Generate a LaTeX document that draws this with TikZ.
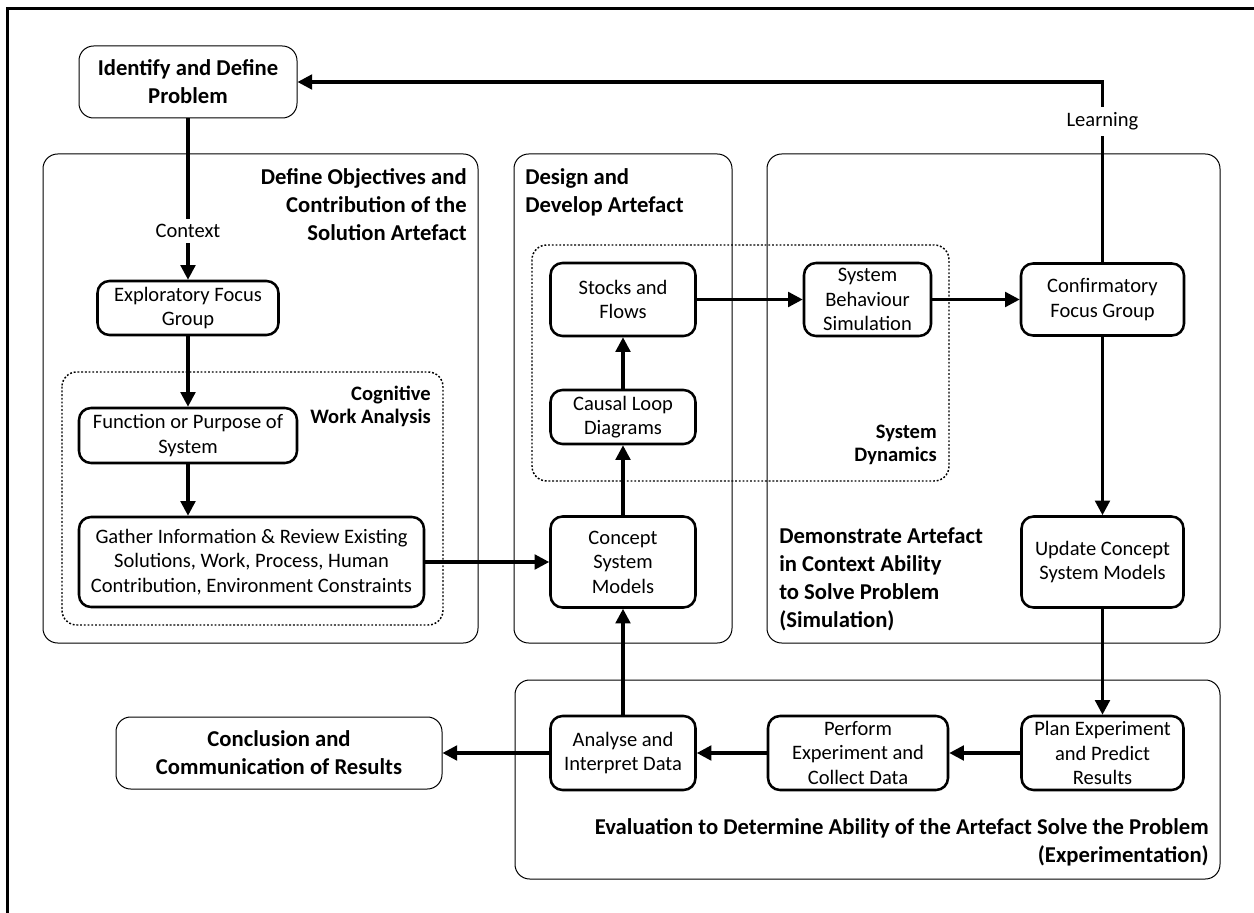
\documentclass[tikz,border=0pt]{standalone}
\usepackage{fontspec}
\setmainfont{Carlito}
\usepackage{tikz}
\usetikzlibrary{positioning,
                arrows.meta}                % arrow tips

\newcommand{\stepfont}{\fontsize{15.4}{18.4}\selectfont}
\newcommand{\headfont}{\bfseries\fontsize{17}{21}\selectfont}
\newcommand{\subheadfont}{\bfseries\fontsize{15.4}{17.4}\selectfont}

\tikzset{
    stepbox/.style={draw, line width=1.9pt, rounded corners=9pt, align=center,
                    font=\stepfont, inner sep=0pt},
    headbox/.style={draw, line width=0.75pt, rounded corners=11pt, align=center,
                    font=\headfont, inner sep=0pt},
    groupbox/.style={draw, line width=0.75pt, rounded corners=11pt},
    dotbox/.style={draw, line width=1.1pt, dash pattern=on 1.4pt off 1.4pt, rounded corners=11pt},
    grouplabel/.style={font=\headfont, inner sep=0pt},
    sublabel/.style={font=\subheadfont, inner sep=0pt, align=right},
    flow/.style={-{Triangle[length=11pt, width=11pt]}, line width=2.4pt},
    flowlabel/.style={fill=white, font=\stepfont, inner sep=4pt}
}

\begin{document}
\begin{tikzpicture}[x=0.75pt, y=-0.75pt]
    \useasboundingbox (0,0) rectangle (1254,913);
    \draw[line width=2.25pt] (7,913) -- (7,9) -- (1254,9);

    % phases
    \draw[groupbox] (43,154) rectangle (478,643);
    \draw[groupbox] (514,154) rectangle (732,643);
    \draw[groupbox] (767,154) rectangle (1220,643);
    \draw[groupbox] (515,680) rectangle (1220,879);
    \draw[dotbox] (62,372) rectangle (443,625);
    \draw[dotbox] (532,245) rectangle (949,481);

    \node[grouplabel, anchor=north east, align=right] (objlabel) at (467,168)
        {Define Objectives and\\Contribution of the\\Solution Artefact};
    \node[grouplabel, anchor=north west, align=left] (designlabel) at (525,168)
        {Design and\\Develop Artefact};
    \node[grouplabel, anchor=north west, align=left] (demolabel) at (779,527)
        {Demonstrate Artefact\\in Context Ability\\to Solve Problem\\(Simulation)};
    \node[grouplabel, anchor=north east, align=right] (evallabel) at (1209,818)
        {Evaluation to Determine Ability of the Artefact Solve the Problem\\(Experimentation)};
    \node[sublabel, anchor=north east] (cwalabel) at (431,386) {Cognitive\\Work Analysis};
    \node[sublabel, anchor=north east] (sdlabel) at (937,425) {System\\Dynamics};

    % steps
    \node[headbox, minimum width=163.5pt, minimum height=54pt] (problem) at (188,82)
        {Identify and Define\\Problem};
    \node[stepbox, minimum width=135.75pt, minimum height=40.5pt] (explore) at (188,308)
        {Exploratory Focus\\Group};
    \node[stepbox, minimum width=163.5pt, minimum height=41.25pt] (purpose) at (188,435.5)
        {Function or Purpose of\\System};
    \node[stepbox, minimum width=258.75pt, minimum height=67.5pt] (gather) at (251.5,562)
        {Gather Information \& Review Existing\\Solutions, Work, Process, Human\\Contribution, Environment Constraints};
    \node[stepbox, minimum width=108.75pt, minimum height=68.25pt] (concept) at (623,562)
        {Concept\\System\\Models};
    \node[stepbox, minimum width=108.75pt, minimum height=40.5pt] (causal) at (623,417)
        {Causal Loop\\Diagrams};
    \node[stepbox, minimum width=108.75pt, minimum height=54.75pt] (stocks) at (623,299.5)
        {Stocks and\\Flows};
    \node[stepbox, minimum width=95.25pt, minimum height=54.75pt] (behaviour) at (867.5,299.5)
        {System\\Behaviour\\Simulation};
    \node[stepbox, minimum width=122.25pt, minimum height=54pt] (confirm) at (1102.5,299.5)
        {Confirmatory\\Focus Group};
    \node[stepbox, minimum width=121.5pt, minimum height=68.25pt] (update) at (1102.5,562)
        {Update Concept\\System Models};
    \node[stepbox, minimum width=121.5pt, minimum height=55.5pt] (plan) at (1102.5,753)
        {Plan Experiment\\and Predict\\Results};
    \node[stepbox, minimum width=135pt, minimum height=55.5pt] (perform) at (858,753)
        {Perform\\Experiment and\\Collect Data};
    \node[stepbox, minimum width=108.75pt, minimum height=55.5pt] (analyse) at (623,753)
        {Analyse and\\Interpret Data};
    \node[headbox, minimum width=244.5pt, minimum height=54pt] (conclusion) at (279,753)
        {Conclusion and\\Communication of Results};

    % flows
    \draw[flow] (problem) -- node[flowlabel, pos=0.7] (context) {Context} (explore);
    \draw[flow] (explore) -- (purpose);
    \draw[flow] (purpose) -- (gather.north -| purpose);
    \draw[flow] (gather) -- (concept);
    \draw[flow] (concept) -- (causal);
    \draw[flow] (causal) -- (stocks);
    \draw[flow] (stocks) -- (behaviour);
    \draw[flow] (behaviour) -- (confirm);
    \draw[flow] (confirm) -- (update);
    \draw[flow] (update) -- (plan);
    \draw[flow] (plan) -- (perform);
    \draw[flow] (perform) -- (analyse);
    \draw[flow] (analyse) -- (concept);
    \draw[flow] (analyse) -- (conclusion);
    \draw[flow] (confirm) |- node[flowlabel, pos=0.39] (learning) {Learning} (problem);
\end{tikzpicture}
\end{document}
